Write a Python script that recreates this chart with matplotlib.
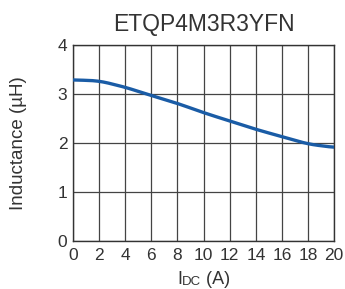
import matplotlib
matplotlib.use("Agg")
import matplotlib.pyplot as plt
import numpy as np

# values
current = [0, 2, 4, 6, 8, 10, 12, 14, 16, 18, 20]
inductance = [3.29, 3.27, 3.14, 2.97, 2.81, 2.62, 2.45, 2.28, 2.13, 1.98, 1.91]
xticks = [0, 2, 4, 6, 8, 10, 12, 14, 16, 18, 20]
yticks = [0, 1, 2, 3, 4]

plt.rcParams['font.family'] = ['Liberation Sans', 'DejaVu Sans']
txt = '#333333'

fig = plt.figure(figsize=(3.45, 2.89), dpi=100)
ax = fig.add_axes([0.2116, 0.166, 0.757, 0.678])

# smooth the read points a bit for drawing
xs = np.linspace(0, 20, 200)
ys = np.interp(xs, current, inductance)
k = np.ones(15) / 15
ys_s = np.convolve(np.pad(ys, 7, mode='edge'), k, mode='valid')
ax.plot(xs, ys_s, color='#1a5ca6', lw=2.4, solid_capstyle='butt', zorder=3)

ax.set_xlim(0, 20)
ax.set_ylim(0, 4)
ax.set_xticks(xticks)
ax.set_yticks(yticks)
ax.grid(True, color='#444444', lw=0.9)
for s in ax.spines.values():
    s.set_color('#333333')
    s.set_linewidth(1.0)
ax.tick_params(length=0, labelsize=12.5, labelcolor=txt)
ax.tick_params(axis='x', pad=5)
ax.tick_params(axis='y', pad=4)
ax.set_axisbelow(True)

ax.set_title('ETQP4M3R3YFN', fontsize=16.5, color=txt, pad=10)
ax.set_ylabel('Inductance (µH)', fontsize=13.5, color=txt)
ax.yaxis.set_label_coords(-0.178, 0.5)

t1 = fig.text(0.513, 0.016, 'I', fontsize=13, color=txt, ha='left', va='baseline')
t2 = ax.annotate('DC', xy=(1, 0), xycoords=t1, fontsize=9.5, color=txt, va='bottom', ha='left')
t3 = ax.annotate(' (A)', xy=(1, 0), xycoords=t2, fontsize=13, color=txt, va='bottom', ha='left')

fig.savefig('out.png', dpi=100)
